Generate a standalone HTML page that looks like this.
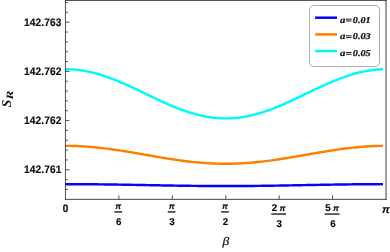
<!DOCTYPE html>
<html><head><meta charset="utf-8"><title>plot</title>
<style>html,body{margin:0;padding:0;background:#fff;overflow:hidden}body{width:390px;height:252px;position:relative;font-family:"Liberation Sans",sans-serif}</style></head>
<body>
<svg width="390" height="252" viewBox="0 0 390 252" style="position:absolute;left:0;top:0;display:block;will-change:transform;opacity:0.999;text-rendering:geometricPrecision">
<rect width="390" height="252" fill="#fff"/>
<path d="M65.10,184.15 L67.09,184.15 L69.07,184.15 L71.06,184.16 L73.05,184.16 L75.03,184.17 L77.02,184.17 L79.01,184.18 L80.99,184.19 L82.98,184.21 L84.97,184.22 L86.96,184.23 L88.94,184.25 L90.93,184.27 L92.92,184.28 L94.90,184.30 L96.89,184.32 L98.88,184.35 L100.86,184.37 L102.85,184.39 L104.84,184.42 L106.82,184.45 L108.81,184.47 L110.80,184.50 L112.78,184.53 L114.77,184.56 L116.76,184.59 L118.75,184.62 L120.73,184.65 L122.72,184.69 L124.71,184.72 L126.69,184.76 L128.68,184.79 L130.67,184.83 L132.65,184.86 L134.64,184.90 L136.63,184.93 L138.61,184.97 L140.60,185.01 L142.59,185.04 L144.57,185.08 L146.56,185.12 L148.55,185.15 L150.54,185.19 L152.52,185.23 L154.51,185.26 L156.50,185.30 L158.48,185.34 L160.47,185.37 L162.46,185.41 L164.44,185.44 L166.43,185.48 L168.42,185.51 L170.40,185.54 L172.39,185.58 L174.38,185.61 L176.36,185.64 L178.35,185.67 L180.34,185.70 L182.33,185.73 L184.31,185.75 L186.30,185.78 L188.29,185.81 L190.27,185.83 L192.26,185.85 L194.25,185.87 L196.23,185.90 L198.22,185.91 L200.21,185.93 L202.19,185.95 L204.18,185.97 L206.17,185.98 L208.16,185.99 L210.14,186.01 L212.13,186.02 L214.12,186.03 L216.10,186.03 L218.09,186.04 L220.08,186.04 L222.06,186.05 L224.05,186.05 L226.04,186.05 L228.02,186.05 L230.01,186.05 L232.00,186.04 L233.98,186.04 L235.97,186.03 L237.96,186.02 L239.94,186.01 L241.93,186.00 L243.92,185.99 L245.91,185.98 L247.89,185.96 L249.88,185.95 L251.87,185.93 L253.85,185.91 L255.84,185.89 L257.83,185.87 L259.81,185.85 L261.80,185.82 L263.79,185.80 L265.77,185.77 L267.76,185.75 L269.75,185.72 L271.74,185.69 L273.72,185.66 L275.71,185.63 L277.70,185.60 L279.68,185.57 L281.67,185.53 L283.66,185.50 L285.64,185.47 L287.63,185.43 L289.62,185.40 L291.60,185.36 L293.59,185.33 L295.58,185.29 L297.56,185.25 L299.55,185.22 L301.54,185.18 L303.52,185.14 L305.51,185.11 L307.50,185.07 L309.49,185.03 L311.47,185.00 L313.46,184.96 L315.45,184.92 L317.43,184.89 L319.42,184.85 L321.41,184.82 L323.39,184.78 L325.38,184.75 L327.37,184.71 L329.35,184.68 L331.34,184.65 L333.33,184.61 L335.31,184.58 L337.30,184.55 L339.29,184.52 L341.28,184.49 L343.26,184.46 L345.25,184.44 L347.24,184.41 L349.22,184.39 L351.21,184.36 L353.20,184.34 L355.18,184.32 L357.17,184.30 L359.16,184.28 L361.14,184.26 L363.13,184.24 L365.12,184.23 L367.11,184.21 L369.09,184.20 L371.08,184.19 L373.07,184.18 L375.05,184.17 L377.04,184.16 L379.03,184.16 L381.01,184.15 L383.00,184.15" fill="none" stroke="#0404fa" stroke-width="2.45" stroke-linecap="butt" stroke-linejoin="round"/>
<path d="M65.10,145.85 L67.09,145.85 L69.07,145.87 L71.06,145.90 L73.05,145.95 L75.03,146.01 L77.02,146.08 L79.01,146.16 L80.99,146.26 L82.98,146.37 L84.97,146.49 L86.96,146.63 L88.94,146.78 L90.93,146.94 L92.92,147.11 L94.90,147.30 L96.89,147.49 L98.88,147.70 L100.86,147.92 L102.85,148.14 L104.84,148.38 L106.82,148.63 L108.81,148.89 L110.80,149.15 L112.78,149.43 L114.77,149.71 L116.76,150.00 L118.75,150.30 L120.73,150.60 L122.72,150.91 L124.71,151.23 L126.69,151.55 L128.68,151.88 L130.67,152.21 L132.65,152.55 L134.64,152.89 L136.63,153.23 L138.61,153.57 L140.60,153.92 L142.59,154.27 L144.57,154.62 L146.56,154.96 L148.55,155.31 L150.54,155.66 L152.52,156.01 L154.51,156.35 L156.50,156.69 L158.48,157.03 L160.47,157.37 L162.46,157.70 L164.44,158.03 L166.43,158.35 L168.42,158.67 L170.40,158.98 L172.39,159.28 L174.38,159.58 L176.36,159.87 L178.35,160.16 L180.34,160.43 L182.33,160.70 L184.31,160.96 L186.30,161.20 L188.29,161.44 L190.27,161.67 L192.26,161.89 L194.25,162.10 L196.23,162.29 L198.22,162.48 L200.21,162.65 L202.19,162.81 L204.18,162.96 L206.17,163.10 L208.16,163.22 L210.14,163.33 L212.13,163.43 L214.12,163.52 L216.10,163.59 L218.09,163.65 L220.08,163.69 L222.06,163.73 L224.05,163.75 L226.04,163.75 L228.02,163.74 L230.01,163.72 L232.00,163.68 L233.98,163.63 L235.97,163.57 L237.96,163.49 L239.94,163.41 L241.93,163.30 L243.92,163.19 L245.91,163.06 L247.89,162.92 L249.88,162.77 L251.87,162.60 L253.85,162.43 L255.84,162.24 L257.83,162.04 L259.81,161.83 L261.80,161.61 L263.79,161.37 L265.77,161.13 L267.76,160.88 L269.75,160.62 L271.74,160.35 L273.72,160.08 L275.71,159.79 L277.70,159.50 L279.68,159.20 L281.67,158.89 L283.66,158.58 L285.64,158.26 L287.63,157.93 L289.62,157.60 L291.60,157.27 L293.59,156.93 L295.58,156.59 L297.56,156.25 L299.55,155.91 L301.54,155.56 L303.52,155.21 L305.51,154.86 L307.50,154.52 L309.49,154.17 L311.47,153.82 L313.46,153.47 L315.45,153.13 L317.43,152.79 L319.42,152.45 L321.41,152.12 L323.39,151.79 L325.38,151.46 L327.37,151.14 L329.35,150.82 L331.34,150.52 L333.33,150.21 L335.31,149.92 L337.30,149.63 L339.29,149.35 L341.28,149.08 L343.26,148.81 L345.25,148.56 L347.24,148.31 L349.22,148.08 L351.21,147.85 L353.20,147.64 L355.18,147.43 L357.17,147.24 L359.16,147.06 L361.14,146.89 L363.13,146.73 L365.12,146.59 L367.11,146.46 L369.09,146.34 L371.08,146.23 L373.07,146.14 L375.05,146.06 L377.04,145.99 L379.03,145.93 L381.01,145.89 L383.00,145.87" fill="none" stroke="#ff8000" stroke-width="2.45" stroke-linecap="butt" stroke-linejoin="round"/>
<path d="M65.10,69.20 L67.09,69.21 L69.07,69.26 L71.06,69.35 L73.05,69.47 L75.03,69.63 L77.02,69.82 L79.01,70.06 L80.99,70.33 L82.98,70.63 L84.97,70.97 L86.96,71.34 L88.94,71.75 L90.93,72.19 L92.92,72.67 L94.90,73.17 L96.89,73.71 L98.88,74.28 L100.86,74.88 L102.85,75.51 L104.84,76.16 L106.82,76.84 L108.81,77.55 L110.80,78.28 L112.78,79.03 L114.77,79.81 L116.76,80.61 L118.75,81.43 L120.73,82.27 L122.72,83.12 L124.71,83.99 L126.69,84.88 L128.68,85.78 L130.67,86.69 L132.65,87.61 L134.64,88.54 L136.63,89.48 L138.61,90.43 L140.60,91.38 L142.59,92.34 L144.57,93.29 L146.56,94.25 L148.55,95.21 L150.54,96.16 L152.52,97.12 L154.51,98.06 L156.50,99.00 L158.48,99.94 L160.47,100.86 L162.46,101.77 L164.44,102.67 L166.43,103.56 L168.42,104.43 L170.40,105.29 L172.39,106.12 L174.38,106.94 L176.36,107.74 L178.35,108.52 L180.34,109.28 L182.33,110.01 L184.31,110.72 L186.30,111.40 L188.29,112.06 L190.27,112.69 L192.26,113.29 L194.25,113.86 L196.23,114.40 L198.22,114.90 L200.21,115.38 L202.19,115.82 L204.18,116.23 L206.17,116.61 L208.16,116.95 L210.14,117.26 L212.13,117.53 L214.12,117.76 L216.10,117.96 L218.09,118.12 L220.08,118.25 L222.06,118.34 L224.05,118.39 L226.04,118.40 L228.02,118.38 L230.01,118.31 L232.00,118.22 L233.98,118.08 L235.97,117.91 L237.96,117.70 L239.94,117.45 L241.93,117.17 L243.92,116.86 L245.91,116.50 L247.89,116.12 L249.88,115.70 L251.87,115.25 L253.85,114.76 L255.84,114.24 L257.83,113.69 L259.81,113.12 L261.80,112.51 L263.79,111.87 L265.77,111.21 L267.76,110.52 L269.75,109.80 L271.74,109.06 L273.72,108.30 L275.71,107.51 L277.70,106.71 L279.68,105.88 L281.67,105.04 L283.66,104.18 L285.64,103.30 L287.63,102.41 L289.62,101.51 L291.60,100.59 L293.59,99.67 L295.58,98.73 L297.56,97.79 L299.55,96.84 L301.54,95.89 L303.52,94.93 L305.51,93.98 L307.50,93.02 L309.49,92.06 L311.47,91.11 L313.46,90.16 L315.45,89.21 L317.43,88.27 L319.42,87.34 L321.41,86.42 L323.39,85.52 L325.38,84.62 L327.37,83.74 L329.35,82.87 L331.34,82.02 L333.33,81.19 L335.31,80.38 L337.30,79.58 L339.29,78.81 L341.28,78.07 L343.26,77.34 L345.25,76.64 L347.24,75.97 L349.22,75.32 L351.21,74.70 L353.20,74.11 L355.18,73.55 L357.17,73.03 L359.16,72.53 L361.14,72.06 L363.13,71.63 L365.12,71.23 L367.11,70.87 L369.09,70.54 L371.08,70.25 L373.07,69.99 L375.05,69.76 L377.04,69.58 L379.03,69.43 L381.01,69.32 L383.00,69.24" fill="none" stroke="#00fafa" stroke-width="2.45" stroke-linecap="butt" stroke-linejoin="round"/>
<g stroke="#333333" stroke-width="0.86" fill="none">
<line x1="65.45" y1="0" x2="65.45" y2="199.85"/>
<line x1="386.0" y1="0" x2="386.0" y2="199.85" stroke-width="1.15" stroke="#555"/>
<line x1="64.95" y1="199.35" x2="386.6" y2="199.35" stroke="#262626"/>
<line x1="64.95" y1="0.4" x2="386.6" y2="0.4" stroke="#222"/>
<line x1="65.45" y1="2.50" x2="67.85" y2="2.50"/>
<line x1="65.45" y1="12.34" x2="67.85" y2="12.34"/>
<line x1="65.45" y1="22.18" x2="69.35" y2="22.18"/>
<line x1="65.45" y1="32.02" x2="67.85" y2="32.02"/>
<line x1="65.45" y1="41.86" x2="67.85" y2="41.86"/>
<line x1="65.45" y1="51.70" x2="67.85" y2="51.70"/>
<line x1="65.45" y1="61.54" x2="67.85" y2="61.54"/>
<line x1="65.45" y1="71.38" x2="69.35" y2="71.38"/>
<line x1="65.45" y1="81.22" x2="67.85" y2="81.22"/>
<line x1="65.45" y1="91.06" x2="67.85" y2="91.06"/>
<line x1="65.45" y1="100.90" x2="67.85" y2="100.90"/>
<line x1="65.45" y1="110.74" x2="67.85" y2="110.74"/>
<line x1="65.45" y1="120.58" x2="69.35" y2="120.58"/>
<line x1="65.45" y1="130.42" x2="67.85" y2="130.42"/>
<line x1="65.45" y1="140.26" x2="67.85" y2="140.26"/>
<line x1="65.45" y1="150.10" x2="67.85" y2="150.10"/>
<line x1="65.45" y1="159.94" x2="67.85" y2="159.94"/>
<line x1="65.45" y1="169.78" x2="69.35" y2="169.78"/>
<line x1="65.45" y1="179.62" x2="67.85" y2="179.62"/>
<line x1="65.45" y1="189.46" x2="67.85" y2="189.46"/>
<line x1="118.88" y1="199.35" x2="118.88" y2="195.25"/>
<line x1="172.30" y1="199.35" x2="172.30" y2="195.25"/>
<line x1="225.73" y1="199.35" x2="225.73" y2="195.25"/>
<line x1="279.15" y1="199.35" x2="279.15" y2="195.25"/>
<line x1="332.57" y1="199.35" x2="332.57" y2="195.25"/>
</g>
<g font-family="Liberation Sans, sans-serif" font-weight="bold" font-size="10.9" fill="#0a0a0a" stroke="#0a0a0a" stroke-width="0.15" letter-spacing="0.12" text-anchor="end">
<text transform="translate(61.6,26.05) scale(0.935,1)" x="0" y="0">142.763</text>
<text transform="translate(61.6,75.05) scale(0.935,1)" x="0" y="0">142.762</text>
<text transform="translate(61.6,124.05) scale(0.935,1)" x="0" y="0">142.762</text>
<text transform="translate(61.6,173.05) scale(0.935,1)" x="0" y="0">142.761</text>
</g>
<g font-family="Liberation Sans, sans-serif" font-weight="bold" font-size="9.8" fill="#0a0a0a" stroke="#0a0a0a" stroke-width="0.15" text-anchor="middle">
<text transform="translate(65.5,212.1) scale(0.9,1)" x="0" y="0" font-size="10.9" stroke-width="0.3">0</text>
<text x="118.22" y="208.8" font-size="8.3" font-style="italic">π</text>
<rect x="114.32" y="211.2" width="7.8" height="1.4" fill="#222" stroke="none"/>
<text x="118.62" y="224.5">6</text>
<text x="171.63" y="208.8" font-size="8.3" font-style="italic">π</text>
<rect x="167.73" y="211.2" width="7.8" height="1.4" fill="#222" stroke="none"/>
<text x="172.03" y="224.5">3</text>
<text x="225.05" y="208.8" font-size="8.3" font-style="italic">π</text>
<rect x="221.15" y="211.2" width="7.8" height="1.4" fill="#222" stroke="none"/>
<text x="225.45" y="224.5">2</text>
<text x="274.57" y="210.9">2</text>
<text x="282.47" y="210.9" font-size="8.3" font-style="italic">π</text>
<rect x="271.27" y="213.35" width="14.8" height="1.4" fill="#222" stroke="none"/>
<text x="279.17" y="227.2">3</text>
<text x="327.98" y="210.9">5</text>
<text x="335.88" y="210.9" font-size="8.3" font-style="italic">π</text>
<rect x="324.68" y="213.35" width="14.8" height="1.4" fill="#222" stroke="none"/>
<text x="332.98" y="227.2">6</text>
<text x="386.0" y="213.4" font-size="10.9" font-style="italic">π</text>
</g>
<text transform="translate(225.9,245.3) scale(1.17,1)" x="0" y="0" font-family="Liberation Serif, serif" font-style="italic" font-size="11.6" fill="#111" stroke="#111" stroke-width="0.2" text-anchor="middle">β</text>
<g transform="translate(11.25,107.35) rotate(-90)" font-family="Liberation Serif, serif" font-style="italic" font-weight="bold" fill="#111">
<text x="0" y="0" font-size="13.6">S</text>
<text x="7.9" y="1.75" font-size="9.7" textLength="8.9" lengthAdjust="spacingAndGlyphs">R</text>
</g>
<rect x="309.5" y="5.5" width="70" height="61" rx="4.4" ry="4.4" fill="#fff" stroke="#777" stroke-width="0.6"/>
<line x1="315.1" y1="17.70" x2="337" y2="17.70" stroke="#0404fa" stroke-width="2.5"/>
<g font-family="Liberation Serif, serif" font-style="italic" font-weight="bold" font-size="9" fill="#111" stroke="#111" stroke-width="0.22">
<text x="340.0" y="22.50" textLength="5.4" lengthAdjust="spacingAndGlyphs">a</text>
<rect x="346.0" y="18.65" width="5.6" height="1.0" fill="#222" stroke="none"/><rect x="346.0" y="20.45" width="5.6" height="1.0" fill="#222" stroke="none"/>
<text x="352.8" y="22.50" textLength="17.9" lengthAdjust="spacingAndGlyphs">0.01</text>
</g>
<line x1="315.1" y1="34.40" x2="337" y2="34.40" stroke="#ff8000" stroke-width="2.5"/>
<g font-family="Liberation Serif, serif" font-style="italic" font-weight="bold" font-size="9" fill="#111" stroke="#111" stroke-width="0.22">
<text x="340.0" y="39.15" textLength="5.4" lengthAdjust="spacingAndGlyphs">a</text>
<rect x="346.0" y="35.30" width="5.6" height="1.0" fill="#222" stroke="none"/><rect x="346.0" y="37.10" width="5.6" height="1.0" fill="#222" stroke="none"/>
<text x="352.8" y="39.15" textLength="17.9" lengthAdjust="spacingAndGlyphs">0.03</text>
</g>
<line x1="315.1" y1="51.10" x2="337" y2="51.10" stroke="#00fafa" stroke-width="2.5"/>
<g font-family="Liberation Serif, serif" font-style="italic" font-weight="bold" font-size="9" fill="#111" stroke="#111" stroke-width="0.22">
<text x="340.0" y="55.80" textLength="5.4" lengthAdjust="spacingAndGlyphs">a</text>
<rect x="346.0" y="51.95" width="5.6" height="1.0" fill="#222" stroke="none"/><rect x="346.0" y="53.75" width="5.6" height="1.0" fill="#222" stroke="none"/>
<text x="352.8" y="55.80" textLength="17.9" lengthAdjust="spacingAndGlyphs">0.05</text>
</g>
</svg>
</body></html>
